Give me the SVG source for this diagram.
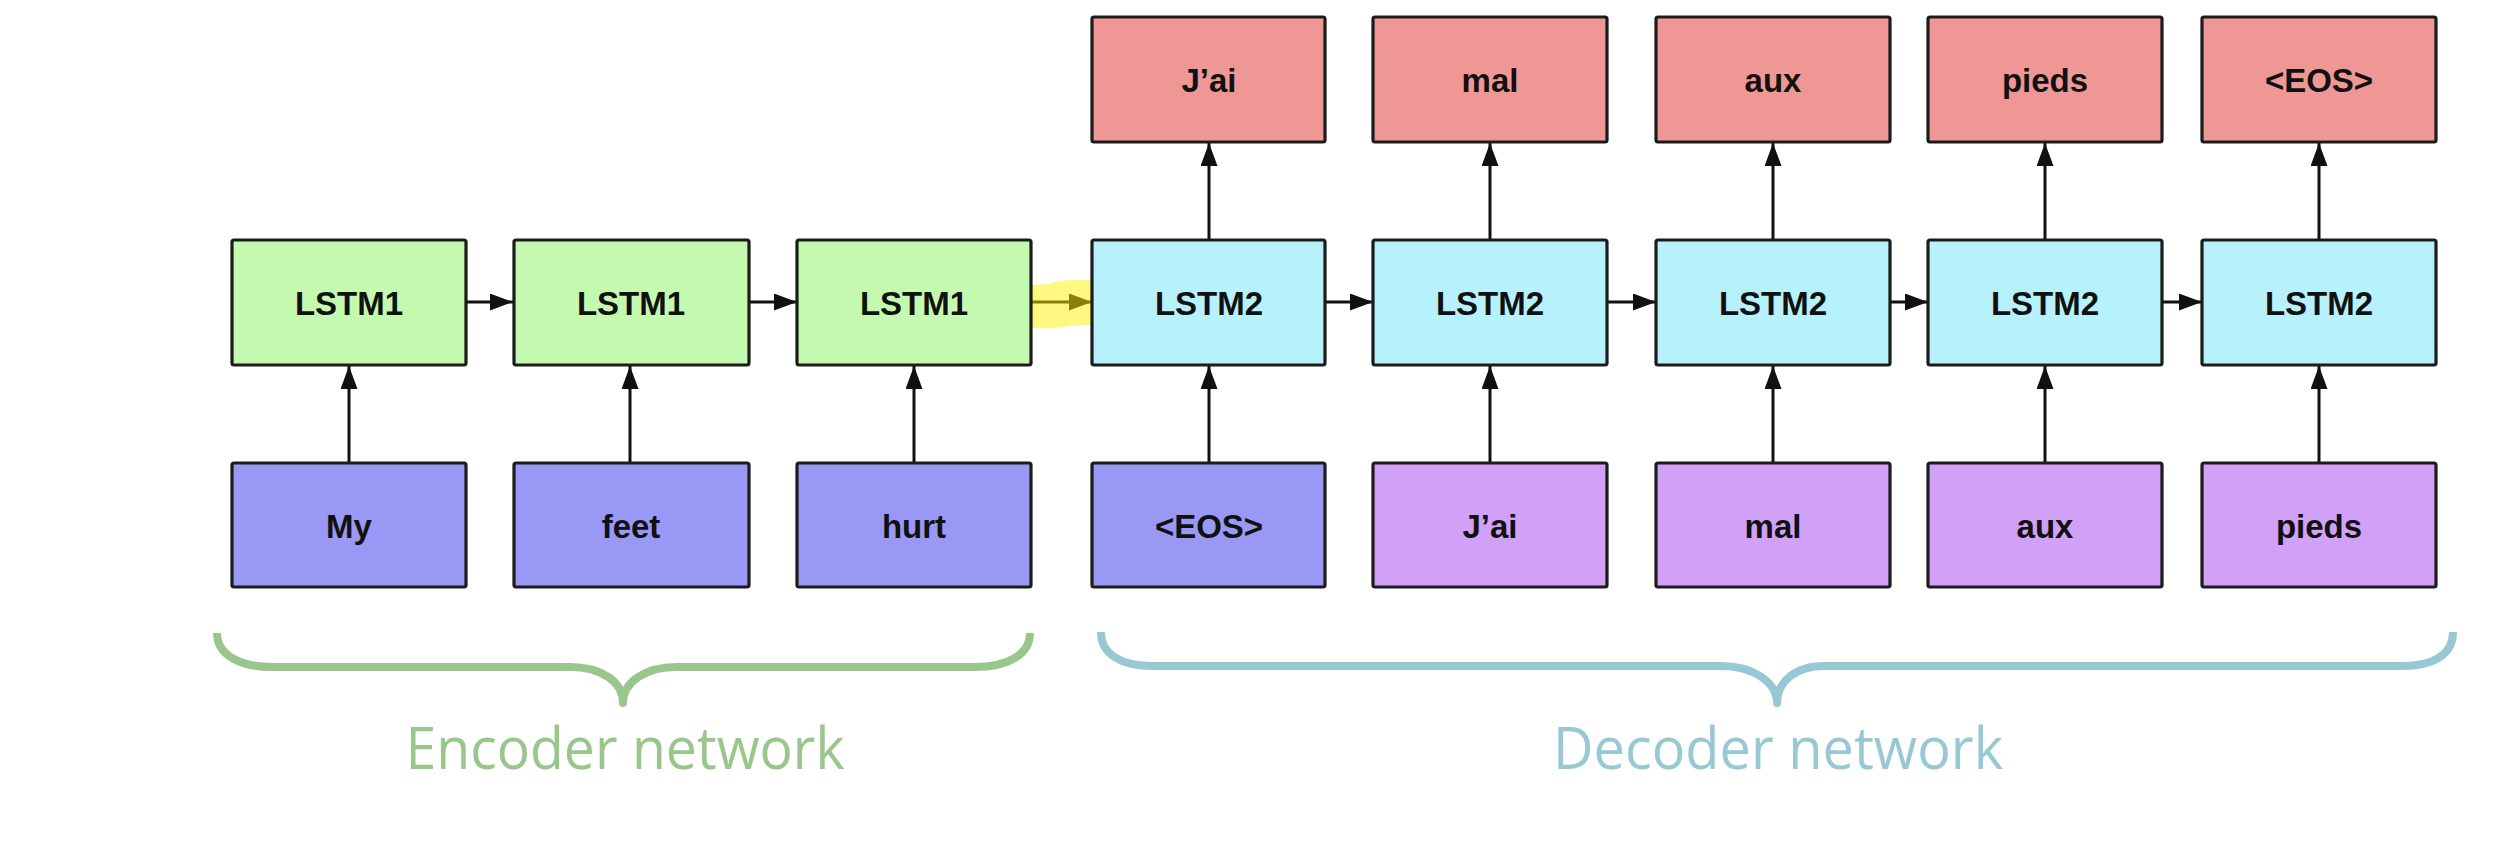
<svg xmlns="http://www.w3.org/2000/svg" width="2512" height="842" viewBox="0 0 2512 842">
<style>
.box{stroke:#1c1c1c;stroke-width:3.2}
.enc{fill:#c3fab0}
.dec{fill:#b7f1fb}
.inE{fill:#9a98f5}
.inD{fill:#d1a0f7}
.out{fill:#ef9795}
.lbl{font-family:"Liberation Sans",Arial,sans-serif;font-weight:bold;font-size:33px;fill:#111;text-anchor:middle}
.conn{stroke:#111;stroke-width:3;fill:none;marker-end:url(#ah)}
.brace{fill:none;stroke-width:8;stroke-linecap:butt;stroke-linejoin:round}
.cap{font-family:"Open Sans","Noto Sans","Liberation Sans",sans-serif;font-weight:400;font-size:58px;text-anchor:middle}
</style>
<defs>
<marker id="ah" markerUnits="userSpaceOnUse" markerWidth="26" markerHeight="20" refX="23" refY="8.5" orient="auto">
<path d="M0,0 L23,8.5 L0,17 Z" fill="#111"/>
</marker>
</defs>
<rect width="2512" height="842" fill="#ffffff"/>

<g id="connectors">
<line class="conn" x1="466" y1="302" x2="513" y2="302"/>
<line class="conn" x1="749" y1="302" x2="797" y2="302"/>
<line class="conn" x1="1031" y1="302" x2="1092" y2="302"/>
<line class="conn" x1="1325" y1="302" x2="1373" y2="302"/>
<line class="conn" x1="1607" y1="302" x2="1656" y2="302"/>
<line class="conn" x1="1890" y1="302" x2="1928" y2="302"/>
<line class="conn" x1="2162" y1="302" x2="2202" y2="302"/>
<line class="conn" x1="349" y1="463" x2="349" y2="366"/>
<line class="conn" x1="630" y1="463" x2="630" y2="366"/>
<line class="conn" x1="914" y1="463" x2="914" y2="366"/>
<line class="conn" x1="1209" y1="463" x2="1209" y2="366"/>
<line class="conn" x1="1490" y1="463" x2="1490" y2="366"/>
<line class="conn" x1="1773" y1="463" x2="1773" y2="366"/>
<line class="conn" x1="2045" y1="463" x2="2045" y2="366"/>
<line class="conn" x1="2319" y1="463" x2="2319" y2="366"/>
<line class="conn" x1="1209" y1="240" x2="1209" y2="143"/>
<line class="conn" x1="1490" y1="240" x2="1490" y2="143"/>
<line class="conn" x1="1773" y1="240" x2="1773" y2="143"/>
<line class="conn" x1="2045" y1="240" x2="2045" y2="143"/>
<line class="conn" x1="2319" y1="240" x2="2319" y2="143"/>
</g>

<path id="highlight" d="M1031,285 L1048,284 Q1060,280 1075,280 L1092,280 L1092,325 L1070,326 Q1055,329 1031,328 Z" fill="#fff000" fill-opacity="0.5"/>

<g id="enc1"><rect class="box enc" x="232" y="240" width="234" height="125" rx="2"/><text class="lbl" x="349" y="315">LSTM1</text></g>
<g id="enc2"><rect class="box enc" x="514" y="240" width="235" height="125" rx="2"/><text class="lbl" x="631" y="315">LSTM1</text></g>
<g id="enc3"><rect class="box enc" x="797" y="240" width="234" height="125" rx="2"/><text class="lbl" x="914" y="315">LSTM1</text></g>
<g id="dec1"><rect class="box dec" x="1092" y="240" width="233" height="125" rx="2"/><text class="lbl" x="1209" y="315">LSTM2</text></g>
<g id="dec2"><rect class="box dec" x="1373" y="240" width="234" height="125" rx="2"/><text class="lbl" x="1490" y="315">LSTM2</text></g>
<g id="dec3"><rect class="box dec" x="1656" y="240" width="234" height="125" rx="2"/><text class="lbl" x="1773" y="315">LSTM2</text></g>
<g id="dec4"><rect class="box dec" x="1928" y="240" width="234" height="125" rx="2"/><text class="lbl" x="2045" y="315">LSTM2</text></g>
<g id="dec5"><rect class="box dec" x="2202" y="240" width="234" height="125" rx="2"/><text class="lbl" x="2319" y="315">LSTM2</text></g>

<g id="in_my"><rect class="box inE" x="232" y="463" width="234" height="124" rx="2"/><text class="lbl" x="349" y="538">My</text></g>
<g id="in_feet"><rect class="box inE" x="514" y="463" width="235" height="124" rx="2"/><text class="lbl" x="631" y="538">feet</text></g>
<g id="in_hurt"><rect class="box inE" x="797" y="463" width="234" height="124" rx="2"/><text class="lbl" x="914" y="538">hurt</text></g>
<g id="in_eos"><rect class="box inE" x="1092" y="463" width="233" height="124" rx="2"/><text class="lbl" x="1209" y="538">&lt;EOS&gt;</text></g>
<g id="in_jai"><rect class="box inD" x="1373" y="463" width="234" height="124" rx="2"/><text class="lbl" x="1490" y="538">J’ai</text></g>
<g id="in_mal"><rect class="box inD" x="1656" y="463" width="234" height="124" rx="2"/><text class="lbl" x="1773" y="538">mal</text></g>
<g id="in_aux"><rect class="box inD" x="1928" y="463" width="234" height="124" rx="2"/><text class="lbl" x="2045" y="538">aux</text></g>
<g id="in_pieds"><rect class="box inD" x="2202" y="463" width="234" height="124" rx="2"/><text class="lbl" x="2319" y="538">pieds</text></g>

<g id="out_jai"><rect class="box out" x="1092" y="17" width="233" height="125" rx="2"/><text class="lbl" x="1209" y="92">J’ai</text></g>
<g id="out_mal"><rect class="box out" x="1373" y="17" width="234" height="125" rx="2"/><text class="lbl" x="1490" y="92">mal</text></g>
<g id="out_aux"><rect class="box out" x="1656" y="17" width="234" height="125" rx="2"/><text class="lbl" x="1773" y="92">aux</text></g>
<g id="out_pieds"><rect class="box out" x="1928" y="17" width="234" height="125" rx="2"/><text class="lbl" x="2045" y="92">pieds</text></g>
<g id="out_eos"><rect class="box out" x="2202" y="17" width="234" height="125" rx="2"/><text class="lbl" x="2319" y="92">&lt;EOS&gt;</text></g>

<g id="encoder_label">
<path class="brace" stroke="#99c68b" d="M217,633 C217,655 240,667 272,667 L570,667 C602,667 623,682 623,703 C623,682 645,667 677,667 L975,667 C1007,667 1030,655 1030,633"/>
<text class="cap" x="625" y="769" fill="#99c68b" textLength="439" lengthAdjust="spacingAndGlyphs">Encoder network</text>
</g>
<g id="decoder_label">
<path class="brace" stroke="#98c8d3" d="M1101,632 C1101,655 1122,666 1153,666 L1721,666 C1753,666 1777,682 1777,703 C1777,682 1795,666 1824,666 L2402,666 C2433,666 2453,655 2453,632"/>
<text class="cap" x="1778" y="769" fill="#98c8d3" textLength="450" lengthAdjust="spacingAndGlyphs">Decoder network</text>
</g>
</svg>
